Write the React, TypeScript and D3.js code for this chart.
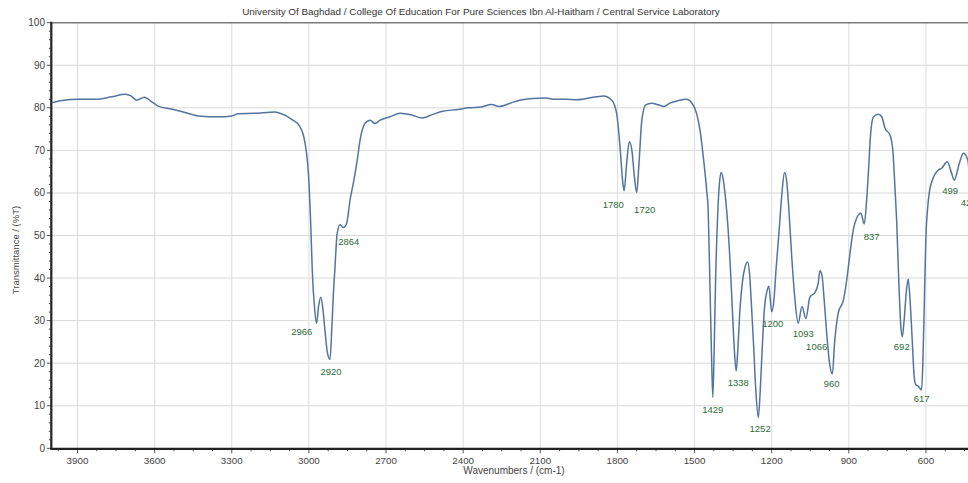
import React from 'react';
import * as d3 from 'd3';

const wavenumbers = [
  4000, 3960, 3900, 3830, 3767, 3715, 3692, 3670, 3640, 3611, 3586, 3534, 3482, 3430, 3352, 3300, 3275, 3210, 3132, 3106,
  3067, 3035, 3015, 3002, 2993, 2987, 2978, 2970, 2962, 2954, 2946, 2938, 2928, 2918, 2911, 2905, 2899, 2890, 2879, 2866,
  2853, 2840, 2825, 2812, 2801, 2782, 2762, 2743, 2723, 2684, 2645, 2600, 2560, 2520, 2480, 2420, 2380, 2330, 2290, 2260,
  2220, 2180, 2130, 2080, 2040, 2000, 1960, 1920, 1880, 1855, 1822, 1803, 1790, 1780, 1774, 1764, 1754, 1744, 1734, 1725,
  1716, 1705, 1690, 1667, 1641, 1619, 1596, 1563, 1531, 1511, 1492, 1479, 1466, 1453, 1447, 1440, 1434, 1429, 1424, 1418,
  1410, 1402, 1396, 1388, 1380, 1370, 1362, 1354, 1346, 1338, 1331, 1323, 1314, 1304, 1294, 1286, 1279, 1271, 1262, 1252,
  1245, 1238, 1228, 1218, 1211, 1200, 1191, 1183, 1170, 1160, 1150, 1142, 1133, 1122, 1111, 1097, 1082, 1067, 1051, 1032,
  1019, 1012, 1004, 996, 986, 975, 964, 955, 941, 921, 908, 895, 882, 870, 853, 840, 831, 824, 815, 804,
  785, 772, 759, 740, 729, 720, 714, 706, 698, 692, 685, 676, 669, 662, 653, 646, 640, 630, 622, 617,
  612, 606, 600, 594, 586, 575, 552, 539, 517, 500, 490, 470, 454, 437, 428, 410
];

const transmittance = [
  81.2, 81.7, 82.0, 82.0, 82.6, 83.2, 82.8, 81.8, 82.5, 81.4, 80.4, 79.7, 78.9, 78.1, 77.9, 78.1, 78.6, 78.7, 79.0, 78.6,
  77.3, 75.6, 71.7, 64.6, 52.9, 41.9, 33.0, 29.4, 33.5, 35.5, 33.0, 28.0, 22.5, 20.9, 28.0, 36.0, 42.0, 50.5, 52.5, 51.9,
  52.9, 58.3, 63.0, 67.7, 72.4, 76.3, 77.1, 76.3, 77.1, 77.9, 78.7, 78.3, 77.6, 78.4, 79.2, 79.6, 80.0, 80.2, 80.8, 80.3,
  81.0, 81.8, 82.2, 82.3, 82.0, 82.0, 81.9, 82.2, 82.6, 82.8, 81.8, 78.7, 70.9, 63.0, 60.5, 67.0, 72.0, 70.1, 63.8, 60.1,
  67.0, 77.1, 80.7, 81.1, 80.7, 80.3, 81.1, 81.7, 82.0, 81.2, 78.7, 74.8, 68.5, 60.7, 56.0, 38.0, 22.0, 12.0, 22.0, 40.0,
  55.0, 63.0, 64.8, 63.0, 59.0, 52.0, 44.0, 34.0, 24.0, 18.2, 24.0, 33.0, 39.0, 42.5, 43.8, 41.0, 34.0, 25.0, 14.0, 7.2,
  13.0, 22.0, 33.0, 37.0, 38.1, 32.1, 35.0, 42.0, 52.0, 60.0, 64.8, 63.0, 56.0, 45.0, 36.0, 29.4, 33.3, 30.5, 35.6, 36.5,
  38.8, 41.7, 40.5, 35.0, 27.0, 20.0, 17.5, 25.0, 31.8, 34.8, 39.6, 46.0, 51.5, 54.0, 55.2, 52.7, 58.0, 64.6, 74.0, 77.9,
  78.5, 77.9, 75.2, 73.6, 70.1, 60.7, 53.6, 40.0, 29.0, 26.2, 30.0, 37.0, 39.8, 35.0, 25.0, 17.0, 15.0, 14.6, 14.0, 13.7,
  20.0, 35.0, 50.0, 56.0, 60.5, 63.0, 65.4, 65.8, 67.3, 64.6, 63.0, 67.0, 69.3, 67.7, 63.5, 66.0
];

const xTicks = [3900, 3600, 3300, 3000, 2700, 2400, 2100, 1800, 1500, 1200, 900, 600];
const yTicks = [0, 10, 20, 30, 40, 50, 60, 70, 80, 90, 100];

const peakLabels = ['2966', '2920', '2864', '1780', '1720', '1429', '1338', '1252', '1200', '1093', '1066', '960', '837', '692', '617', '499', '428'];
const peakLabelWn = [3028, 2914, 2845, 1816, 1694, 1429, 1330, 1245, 1196, 1077, 1025, 967, 811, 694, 617, 506, 434];
const peakLabelT = [26.6, 17.2, 47.8, 56.5, 55.3, 8.3, 14.7, 3.8, 28.5, 26.2, 23.0, 14.4, 48.9, 23.0, 10.8, 59.8, 57.0];

const titleText = 'University Of Baghdad / College Of Education For Pure Sciences Ibn Al-Haitham / Central Service Laboratory';
const xLabel = 'Wavenumbers / (cm-1)';
const yLabel = 'Transmittance / (%T)';

export default function App() {
  const W = 968;
  const H = 483;
  const left = 51.8;
  const pxPerUnit = 0.2571;
  const x = d3.scaleLinear().domain([4000, 400]).range([left, left + 3600 * pxPerUnit]);
  const y = d3.scaleLinear().domain([0, 100]).range([448.3, 22.7]);
  const pts: [number, number][] = wavenumbers.map((w, i) => [w, transmittance[i]]);
  const line = d3
    .line<[number, number]>()
    .x((d) => x(d[0]))
    .y((d) => y(d[1]))
    .curve(d3.curveMonotoneX);
  const font = 'Liberation Sans, Arial, sans-serif';
  const minorX = d3.range(3975, 400, -75);
  const minorY = d3.range(0, 101, 2);
  const right = W;
  const bottom = y(0);
  const top = y(100);

  return (
    <svg width={W} height={H} style={{ position: 'absolute', left: 0, top: 0, background: '#fff' }} fontFamily={font}>
      <rect x={0} y={0} width={W} height={H} fill="#fff" />
      <text x={481} y={15} fontSize={9.9} fill="#333" textAnchor="middle">{titleText}</text>
      {/* grid */}
      {yTicks.filter((t) => t > 0 && t < 100).map((t) => (
        <line key={'gy' + t} x1={left} x2={right} y1={y(t)} y2={y(t)} stroke="#d9d9d9" strokeWidth={1} />
      ))}
      {xTicks.map((t) => (
        <line key={'gx' + t} x1={x(t)} x2={x(t)} y1={top} y2={bottom} stroke="#dcdcdc" strokeWidth={1} />
      ))}
      {/* top frame */}
      <line x1={left} x2={right} y1={top} y2={top} stroke="#7a7a7a" strokeWidth={1.6} />
      {/* ticks */}
      {minorX.map((t) => (
        <line key={'mx' + t} x1={x(t)} x2={x(t)} y1={bottom} y2={bottom + (t % 300 === 0 ? 5 : 3)} stroke="#555" strokeWidth={1} />
      ))}
      {minorY.map((t) => (
        <line key={'my' + t} x1={left - (t % 10 === 0 ? 5 : 3)} x2={left} y1={y(t)} y2={y(t)} stroke="#555" strokeWidth={1} />
      ))}
      {/* axes */}
      <line x1={left - 0.5} x2={left - 0.5} y1={top - 1} y2={bottom + 1} stroke="#222" strokeWidth={2.2} />
      <line x1={left - 1.5} x2={right} y1={bottom + 0.5} y2={bottom + 0.5} stroke="#222" strokeWidth={2.2} />
      {/* tick labels */}
      {yTicks.map((t) => (
        <text key={'ty' + t} x={45} y={y(t) + 3.5} fontSize={10} fill="#444" textAnchor="end">{t}</text>
      ))}
      {xTicks.map((t) => (
        <text key={'tx' + t} x={x(t)} y={464} fontSize={9.8} fill="#444" textAnchor="middle">{t}</text>
      ))}
      <text x={514} y={474} fontSize={10} fill="#444" textAnchor="middle">{xLabel}</text>
      <text x={19} y={250} fontSize={9.5} fill="#444" textAnchor="middle" transform="rotate(-90 19 250)">{yLabel}</text>
      {/* spectrum */}
      <path d={line(pts) || ''} fill="none" stroke="#52759f" strokeWidth={1.5} strokeLinejoin="round" />
      {/* peak labels */}
      {peakLabels.map((p, i) => (
        <text key={'pk' + i} x={x(peakLabelWn[i])} y={y(peakLabelT[i])} fontSize={9.5} fill="#2f6b3c" textAnchor="middle">{p}</text>
      ))}
    </svg>
  );
}
